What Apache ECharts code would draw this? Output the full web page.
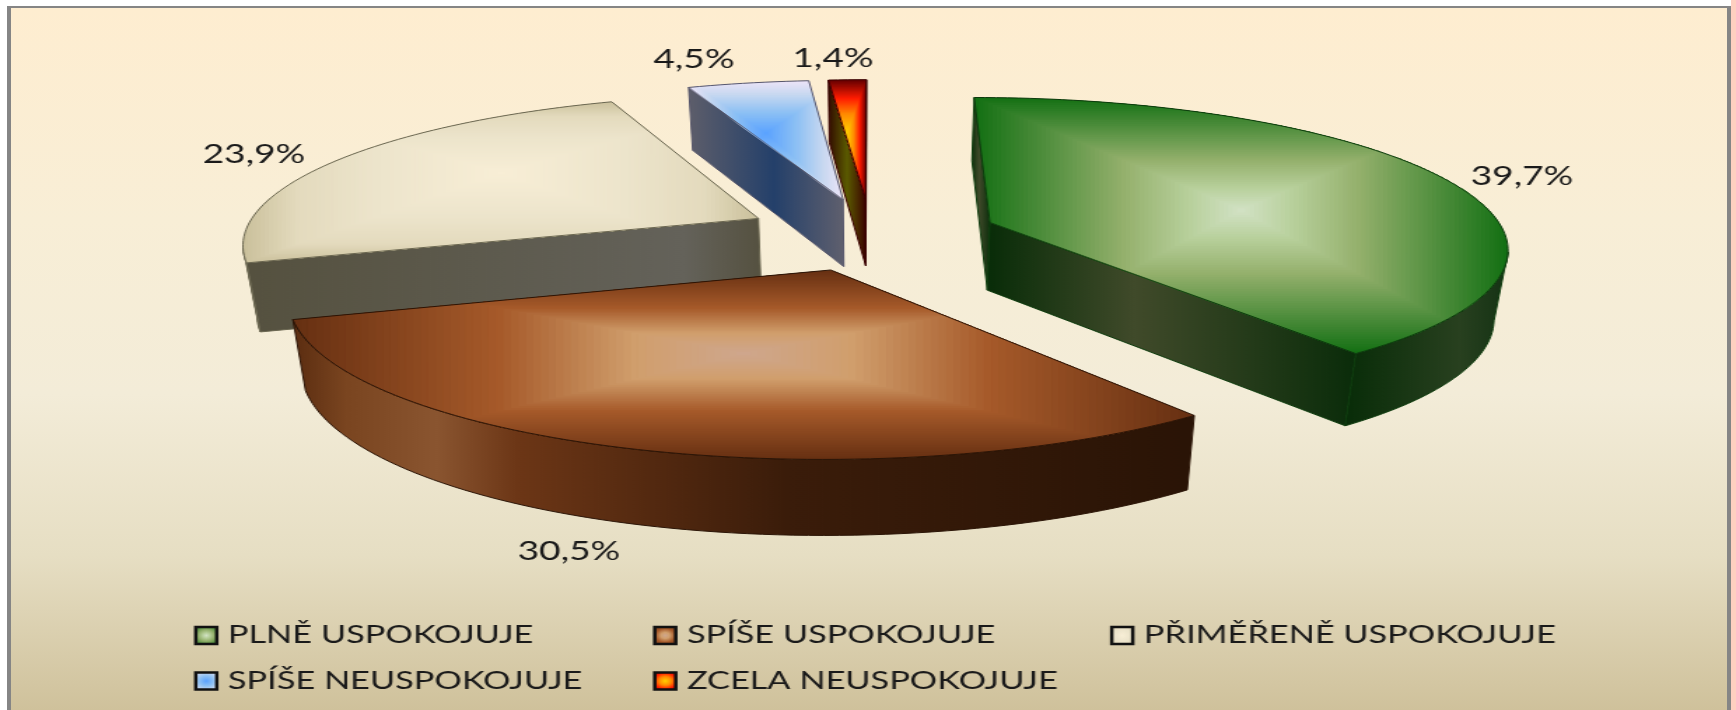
<!DOCTYPE html>
<html>
<head>
<meta charset="utf-8">
<title>Spokojenost</title>
<script src="https://cdn.jsdelivr.net/npm/echarts@6/dist/echarts.min.js"></script>
<style>
    html, body { margin: 0; background: #fff; overflow: hidden; }
    #page { position: relative; width: 1736px; height: 710px; overflow: hidden; background: #fff; }
    #edge { position: absolute; left: 1731px; top: 0; width: 5px; height: 710px; background: #ffcfc0; }
    #panel {
        position: absolute; left: 11px; top: 8px; width: 1716px; height: 702px;
        border-left: 4px solid #858585; border-right: 4px solid #858585; border-top: 2px solid #858585;
        box-sizing: content-box; margin-left: -4px; margin-top: -2px;
        background: linear-gradient(to bottom, #feedd0 0%, #f8eed6 30%, #f3ecd8 55%, #e6dec3 78%, #cfc19b 100%);
    }
    /* the reference is stretched sideways and a little soft, text included */
    #chart { position: absolute; left: 0; top: 0; width: 1240px; height: 710px; transform: scaleX(1.4); transform-origin: 0 0; filter: blur(0.4px); }
</style>
</head>
<body>
<div id="page">
    <div id="edge"></div>
    <div id="panel"></div>
    <div id="chart"></div>
</div>
<script>
// Data
const categories = ['PLNĚ USPOKOJUJE', 'SPÍŠE USPOKOJUJE', 'PŘIMĚŘENĚ USPOKOJUJE', 'SPÍŠE NEUSPOKOJUJE', 'ZCELA NEUSPOKOJUJE'];
const values = [39.7, 30.5, 23.9, 4.5, 1.4];
const valueLabels = ['39,7%', '30,5%', '23,9%', '4,5%', '1,4%'];

// Which legend column each category sits in
const legendColumns = [[0, 3], [1, 4], [2]];
const legendLeft = [194, 653, 1110];

// Paint order, back slices first
const sliceZ = [5, 6, 2, 3, 4];

// Label centres in page pixels
const labelPos = [[1522, 176], [569, 551], [254, 154], [694, 59], [833, 58]];

// Top face colours, from the middle of the box out to its edge
const topStops = [
    [[0, '#d3e2c6'], [0.2, '#b8d09c'], [0.45, '#94b06c'], [1, '#147014']],
    [[0, '#cfa78e'], [0.25, '#d09e6c'], [0.55, '#a65a2a'], [1, '#673012']],
    [[0, '#f8eed6'], [0.5, '#ece4cb'], [0.8, '#e3dabd'], [1, '#cbc19c']],
    [[0, '#5aa2ff'], [0.4, '#8cc0f4'], [0.75, '#c8d8f0'], [1, '#ece4f8']],
    [[0, '#ffd000'], [0.35, '#ff8a00'], [0.65, '#ff1c00'], [1, '#660000']]
];

// Side wall colours, left to right
const radialWall = [
    [[0, '#082c08'], [0.4, '#404a2a'], [1, '#0a2c0a']],
    [[0, '#5a2c10'], [1, '#2e1607']],
    [[0, '#55513f'], [0.85, '#64625a'], [1, '#555140']],
    [[0, '#5e5e6a'], [0.55, '#24406a'], [1, '#60606e']],
    [[0, '#300800'], [0.5, '#5a5a00'], [1, '#3a0000']]
];
const outerWall = [
    [[0, '#082c08'], [0.7, '#28401f'], [1, '#143214']],
    [[0, '#5a2c10'], [0.06, '#7a4520'], [0.16, '#8a5530'], [0.25, '#6c3616'], [0.55, '#3a1c0a'], [1, '#2a1406']],
    [[0, '#55513f'], [1, '#55513f']],
    [[0, '#64647a'], [1, '#60606e']],
    [[0, '#300800'], [1, '#3a0000']]
];
const outlineColor = ['#0c3a0c', '#2a1406', '#6a6650', '#55556a', '#3a0000'];

// Pie geometry, ground units
const stretch = 1.4;
const radius = 515;
const explode = 127;
const camDist = 3330;
const camHeight = 955;
const thickness = 68;
const centerX = 871;
const centerY = 234;
const bottomShrink = 0.978;
const boxMiddleY = 0.44;

const total = values.reduce((a, b) => a + b, 0);

function sliceAngles(index) {
    let before = 0;
    for (let i = 0; i < index; i++) before += values[i];
    return [before / total * Math.PI * 2, (before + values[index]) / total * Math.PI * 2];
}

// Ground point to chart pixels, level 0 is the top face, 1 the bottom one
function project(X, Y, level) {
    const s = camDist / (camDist + Y);
    let x = centerX + X * s;
    let y = centerY + camHeight * (s - 1);
    if (level) {
        y += thickness * (1 + (s - 1) * 0.5);
        x = centerX + (x - centerX) * bottomShrink;
    }
    return [x / stretch, y];
}

function mixColor(stops, t) {
    let i = 0;
    while (i < stops.length - 2 && t > stops[i + 1][0]) i++;
    const a = stops[i], b = stops[i + 1];
    const f = Math.min(1, Math.max(0, (t - a[0]) / (b[0] - a[0])));
    const rgb = c => [1, 3, 5].map(p => parseInt(c.substr(p, 2), 16));
    const ca = rgb(a[1]), cb = rgb(b[1]);
    return 'rgb(' + ca.map((v, k) => Math.round(v + (cb[k] - v) * f)).join(',') + ')';
}

// Clip a polygon to a box (Sutherland-Hodgman)
function clipToBox(points, x0, y0, x1, y1) {
    const edges = [
        p => p[0] >= x0, p => p[0] <= x1, p => p[1] >= y0, p => p[1] <= y1
    ];
    const cross = [
        (a, b) => [x0, a[1] + (b[1] - a[1]) * (x0 - a[0]) / (b[0] - a[0])],
        (a, b) => [x1, a[1] + (b[1] - a[1]) * (x1 - a[0]) / (b[0] - a[0])],
        (a, b) => [a[0] + (b[0] - a[0]) * (y0 - a[1]) / (b[1] - a[1]), y0],
        (a, b) => [a[0] + (b[0] - a[0]) * (y1 - a[1]) / (b[1] - a[1]), y1]
    ];
    let out = points;
    edges.forEach((inside, e) => {
        const src = out;
        out = [];
        src.forEach((p, i) => {
            const prev = src[(i + src.length - 1) % src.length];
            if (inside(p)) {
                if (!inside(prev)) out.push(cross[e](prev, p));
                out.push(p);
            } else if (inside(prev)) {
                out.push(cross[e](prev, p));
            }
        });
    });
    return out;
}

function wallFill(stops) {
    return {
        type: 'linear', x: 0, y: 0, x2: 1, y2: 0,
        colorStops: stops.map(s => ({ offset: s[0], color: s[1] }))
    };
}

function legendFill(stops) {
    return {
        type: 'radial', x: 0.5, y: 0.5, r: 0.7,
        colorStops: stops.map(s => ({ offset: s[0], color: s[1] }))
    };
}

function renderSlice(params) {
    const index = params.seriesIndex;
    const [a0, a1] = sliceAngles(index);
    const mid = (a0 + a1) / 2;
    const cx = explode * Math.sin(mid);
    const cy = explode * Math.cos(mid);
    const children = [];
    const edge = outlineColor[index];

    // arc samples, ground coordinates
    const arc = [];
    const steps = Math.max(4, Math.round((a1 - a0) * 40));
    for (let i = 0; i <= steps; i++) {
        const a = a0 + (a1 - a0) * i / steps;
        arc.push({ a: a, X: cx + radius * Math.sin(a), Y: cy + radius * Math.cos(a) });
    }

    // flat walls, only the ones turned to the camera
    const wall = (a, nx, ny) => {
        if (nx * -cx + ny * (-camDist - cy) <= 0) return;
        const X = cx + radius * Math.sin(a), Y = cy + radius * Math.cos(a);
        children.push({
            type: 'polygon',
            shape: { points: [project(cx, cy, 0), project(X, Y, 0), project(X, Y, 1), project(cx, cy, 1)] },
            style: { fill: wallFill(radialWall[index]), stroke: edge, lineWidth: 1 }
        });
    };
    wall(a0, -Math.cos(a0), Math.sin(a0));
    wall(a1, Math.cos(a1), -Math.sin(a1));

    // round wall
    const front = arc.filter(p => Math.sin(p.a) * (-p.X) + Math.cos(p.a) * (-camDist - p.Y) > 0);
    if (front.length > 1) {
        const strip = front.map(p => project(p.X, p.Y, 0))
            .concat(front.slice().reverse().map(p => project(p.X, p.Y, 1)));
        children.push({
            type: 'polygon',
            shape: { points: strip },
            style: { fill: wallFill(outerWall[index]), stroke: edge, lineWidth: 1 }
        });
    }

    // top face, box shaped gradient out of nested clipped polygons
    const top = [project(cx, cy, 0)].concat(arc.map(p => project(p.X, p.Y, 0)));
    const xs = top.map(p => p[0]), ys = top.map(p => p[1]);
    const x0 = Math.min(...xs), x1 = Math.max(...xs), y0 = Math.min(...ys), y1 = Math.max(...ys);
    const mx = (x0 + x1) / 2, my = y0 + (y1 - y0) * boxMiddleY;
    const rings = 60;
    for (let r = rings; r > 0; r--) {
        const t = r / rings;
        const piece = clipToBox(top, mx - (mx - x0) * t, my - (my - y0) * t, mx + (x1 - mx) * t, my + (y1 - my) * t);
        if (piece.length < 3) continue;
        children.push({
            type: 'polygon',
            shape: { points: piece },
            style: { fill: mixColor(topStops[index], t) }
        });
    }
    children.push({
        type: 'polygon',
        shape: { points: top },
        style: { fill: 'none', stroke: edge, lineWidth: 1 }
    });

    // value label
    children.push({
        type: 'text',
        x: labelPos[index][0] / stretch,
        y: labelPos[index][1],
        style: {
            text: valueLabels[index],
            fontFamily: 'Lato',
            fontSize: 26.5,
            fill: '#1a1a1a',
            align: 'center',
            verticalAlign: 'middle'
        }
    });

    children.forEach((c, i) => { c.z2 = i; c.silent = true; });
    return { type: 'group', children: children };
}

const chart = echarts.init(document.getElementById('chart'));

chart.setOption({
    animation: false,
    tooltip: { show: false },
    legend: legendColumns.map((col, i) => ({
        orient: 'vertical',
        left: legendLeft[i] / stretch,
        top: 623,
        padding: 0,
        itemWidth: 15,
        itemHeight: 17,
        itemGap: 20.5,
        selectedMode: false,
        textStyle: { fontFamily: 'Lato', fontSize: 24.5, color: '#1a1a1a', padding: [0, 0, 0, 3] },
        data: col.map(k => ({
            name: categories[k],
            icon: 'rect',
            itemStyle: { color: legendFill(topStops[k]), borderColor: '#111111', borderWidth: 2.5 }
        }))
    })),
    series: categories.map((name, i) => ({
        type: 'custom',
        name: name,
        z: sliceZ[i],
        coordinateSystem: 'none',
        silent: true,
        clip: false,
        itemStyle: { color: topStops[i][1][1] },
        data: [[values[i]]],
        renderItem: renderSlice
    }))
});
</script>
</body>
</html>
